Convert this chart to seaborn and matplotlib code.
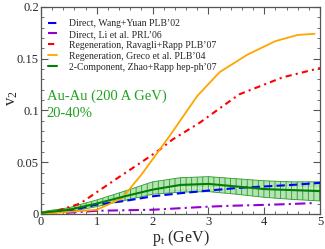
import numpy as np
import pandas as pd
import matplotlib
matplotlib.use("Agg")
import matplotlib.pyplot as plt
from matplotlib.ticker import MultipleLocator
import seaborn as sns

# --- data (p_t in GeV, v_2) ---
pt_wang = [0.0, 0.5, 1.0, 1.5, 2.0, 2.5, 3.0, 3.5, 4.0, 4.5, 5.0]
v2_wang = [0.0, 0.003, 0.009, 0.0125, 0.017, 0.020, 0.0225, 0.025, 0.0265, 0.028, 0.030]

pt_li = [0.45, 1.0, 1.5, 2.0, 2.5, 3.0, 3.5, 4.0, 4.5, 4.85]
v2_li = [0.001, 0.003, 0.0035, 0.004, 0.0055, 0.007, 0.008, 0.0087, 0.0096, 0.0104]

pt_ravagli = [0.0, 0.3, 0.7, 1.0, 1.41, 1.8, 2.125, 2.36, 2.84, 3.55, 4.33, 5.0]
v2_ravagli = [0.0, 0.003, 0.010, 0.021, 0.036, 0.050, 0.062, 0.072, 0.088, 0.1155, 0.132, 0.141]

pt_greco = [0.0, 0.5, 1.0, 1.45, 1.8, 2.3, 2.8, 3.2, 3.7, 4.2, 4.6, 4.9]
v2_greco = [0.0, 0.002, 0.004, 0.015, 0.038, 0.075, 0.114, 0.137, 0.154, 0.167, 0.173, 0.174]

pt_zhao = [0.0, 0.5, 1.0, 1.5, 2.0, 2.5, 3.0, 3.5, 4.0, 4.5, 5.0]
v2_zhao = [0.001, 0.004, 0.010, 0.017, 0.0235, 0.028, 0.029, 0.0265, 0.024, 0.023, 0.022]
v2_zhao_hi = [0.002, 0.006, 0.0135, 0.022, 0.031, 0.035, 0.036, 0.034, 0.032, 0.031, 0.031]
v2_zhao_lo = [0.0005, 0.002, 0.007, 0.013, 0.019, 0.021, 0.0215, 0.019, 0.016, 0.014, 0.0125]

pt_mid = [1.2, 1.5, 2.0, 2.5, 3.0, 3.5, 4.0, 4.5, 5.0]
v2_mid = [0.012, 0.017, 0.0245, 0.025, 0.025, 0.025, 0.025, 0.025, 0.025]

labels = ["Direct, Wang+Yuan PLB\u201902",
          "Direct, Li et al. PRL\u201906",
          "Regeneration, Ravagli+Rapp PLB\u201907",
          "Regeneration, Greco et al. PLB\u201904",
          "2-Component, Zhao+Rapp hep-ph\u201907"]

sns.set_style("ticks")
plt.rcParams['font.family'] = ['Liberation Serif', 'DejaVu Serif']
plt.rcParams['mathtext.fontset'] = 'stix'
plt.rcParams['hatch.color'] = '#2a9a2a'
plt.rcParams['hatch.linewidth'] = 0.6

fig = plt.figure(figsize=(3.25, 2.49), dpi=100)
ax = fig.add_axes([0.126, 0.141, 0.859, 0.831])

# band for the 2-component result
ax.fill_between(pt_zhao, v2_zhao_lo, v2_zhao_hi, facecolor='#b4e4b4',
                edgecolor='#2a9a2a', hatch='|||', linewidth=0.6, zorder=1)
sns.lineplot(x=pt_mid, y=v2_mid, ax=ax, color='white', lw=0.8,
             linestyle=(0, (1, 1.5)), zorder=2)

sns.lineplot(x=pt_wang, y=v2_wang, ax=ax, color='blue', lw=1.5,
             linestyle=(0, (4, 2)), label=labels[0], zorder=4)
sns.lineplot(x=pt_li, y=v2_li, ax=ax, color='#9400d3', lw=1.5,
             linestyle=(0, (5, 2, 1, 2)), label=labels[1], zorder=4)
sns.lineplot(x=pt_ravagli, y=v2_ravagli, ax=ax, color='red', lw=1.5,
             linestyle=(0, (3, 2, 1, 2)), label=labels[2], zorder=4)
sns.lineplot(x=pt_greco, y=v2_greco, ax=ax, color='orange', lw=1.3,
             label=labels[3], zorder=4)
sns.lineplot(x=pt_zhao, y=v2_zhao, ax=ax, color='#008000', lw=1.5,
             label=labels[4], zorder=5)

ax.set_xlim(0, 5)
ax.set_ylim(0, 0.2)
ax.xaxis.set_major_locator(MultipleLocator(1))
ax.xaxis.set_minor_locator(MultipleLocator(0.2))
ax.yaxis.set_major_locator(MultipleLocator(0.05))
ax.yaxis.set_minor_locator(MultipleLocator(0.01))
ax.set_xticks([0, 1, 2, 3, 4, 5])
ax.set_xticklabels(['0', '1', '2', '3', '4', '5'])
ax.set_yticks([0, 0.05, 0.1, 0.15, 0.2])
ax.set_yticklabels(['0', '0.05', '0.1', '0.15', '0.2'])
ax.tick_params(which='both', direction='in', top=True, right=True,
               color='#555555', labelsize=9, pad=1.5)
ax.tick_params(which='major', length=5, width=0.8)
ax.tick_params(which='minor', length=2.5, width=0.6)
for sp in ax.spines.values():
    sp.set_color('#555555')
    sp.set_linewidth(0.9)

ax.set_xlabel(r'$\mathregular{p_t}$ (GeV)', fontsize=11.5, labelpad=0)
ax.set_ylabel(r'$\mathregular{v_2}$', fontsize=12)
ax.yaxis.set_label_coords(-0.075, 0.56)

ax.text(0.1, 0.1107, 'Au-Au (200 A GeV)', color='#22a022', fontsize=10.5)
ax.text(0.1, 0.094, '20-40%', color='#22a022', fontsize=10.5)

ax.legend(loc='upper left', frameon=False, fontsize=7, handlelength=1.0,
          handletextpad=1.2, labelspacing=0.2, borderaxespad=0.3,
          bbox_to_anchor=(0.0, 0.975))

fig.savefig('out.png', dpi=100)
